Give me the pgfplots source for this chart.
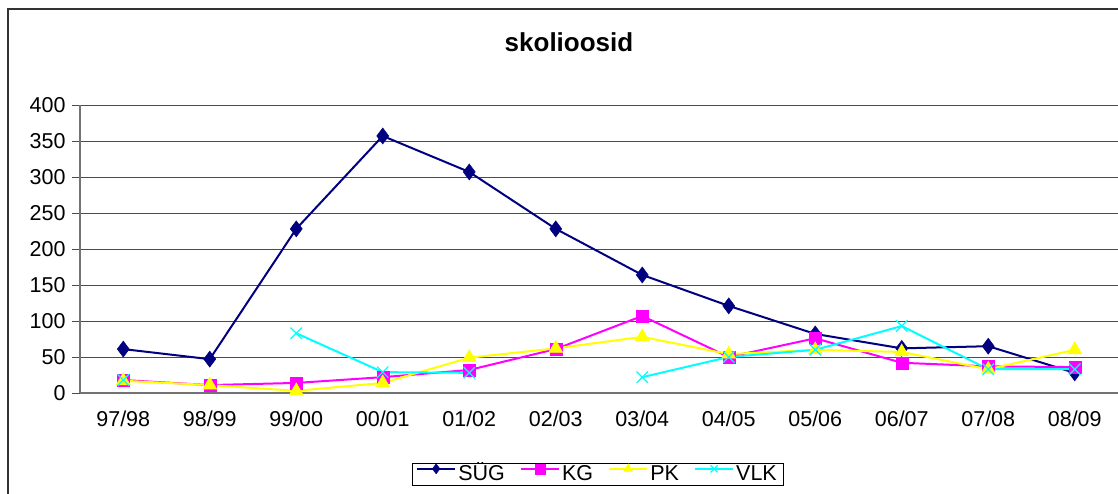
\documentclass[border=0pt]{standalone}
\usepackage{fontspec}
\setmainfont{Liberation Sans}
\usepackage{pgfplots}
\usepackage{pgfplotstable}
\pgfplotsset{compat=1.18}

\definecolor{sug}{RGB}{0,0,128}
\definecolor{kg}{RGB}{255,0,255}
\definecolor{pk}{RGB}{255,255,0}
\definecolor{vlk}{RGB}{0,255,255}

% x: 0 = 97/98 ... 11 = 08/09
\pgfplotstableread{
x  sug  kg   pk   vlk
0  61   18   17   18
1  47   11   11   nan
2  228  14   3    83
3  357  22   14   29
4  307  32   49   28
5  228  61   62   nan
6  164  107  78   22
7  121  50   54   50
8  82   76   60   60
9  62   42   57   93
10 65   37   33   33
11 28   36   60   33
}\datatable

\begin{document}
\begin{tikzpicture}[x=1pt,y=1pt]
\useasboundingbox (0,0) rectangle (1118,493);
\clip (0,0) rectangle (1118,493);
\draw[line width=2pt, black!80] (8,484) rectangle (1140,-20);
\node[font=\fontsize{26}{28}\selectfont\bfseries] at (569,451) {skolioosid};
\begin{axis}[
    at={(80pt,100pt)}, anchor=south west,
    scale only axis,
    width=1038pt, height=288pt,
    xmin=-0.5, xmax=11.5,
    ymin=0, ymax=400,
    axis x line=bottom, axis y line=left,
    axis line style={-, draw=black!55, line width=1.5pt},
    xtick={0,...,11},
    xticklabels={97/98,98/99,99/00,00/01,01/02,02/03,03/04,04/05,05/06,06/07,07/08,08/09},
    major x tick style={draw=none},
    extra x ticks={-0.5,0.5,...,11.5},
    extra x tick labels={},
    extra x tick style={grid=none, major tick length=8pt, tick style={draw=black!70, line width=0.8pt}},
    ytick={0,50,...,400},
    ytick style={draw=black!70, line width=0.8pt},
    tick align=outside,
    major tick length=8pt,
    ymajorgrids,
    major grid style={draw=black!70, line width=0.8pt},
    tick label style={font=\fontsize{21.5}{23}\selectfont},
    /pgf/number format/assume math mode=true,
    xticklabel style={yshift=-6pt},
    yticklabel style={xshift=-3pt},
    unbounded coords=jump,
    clip=false,
    legend columns=4,
    legend style={
        at={(0.4985,-0.281)}, anchor=center,
        font=\fontsize{21.5}{23}\selectfont,
        draw=black,
        nodes={text height=0.95em, text depth=0.2em},
        /tikz/every even column/.append style={column sep=13pt},
        inner xsep=4pt, inner ysep=1pt,
    },
    legend image code/.code={
        \draw[mark repeat=2, mark phase=2, #1, line width=2.2pt, mark size=5pt]
            plot coordinates {(0pt,7.5pt) (19pt,7.5pt) (38pt,7.5pt)};
    },
]
\addplot[color=sug, line width=2pt, mark=diamond*, mark size=8pt, mark options={fill=sug, draw=sug, line width=0.5pt}]
    table[x=x, y=sug] {\datatable};
\addlegendentry{SÜG}
\addplot[color=kg, line width=2pt, mark=square*, mark size=6pt, mark options={fill=kg, draw=kg, line width=0.5pt}]
    table[x=x, y=kg] {\datatable};
\addlegendentry{KG}
\addplot[color=pk, line width=2pt, mark=triangle*, mark size=8pt, mark options={fill=pk, draw=pk, line width=0.5pt}]
    table[x=x, y=pk] {\datatable};
\addlegendentry{PK}
\addplot[color=vlk, line width=2pt, mark=x, mark size=8pt, mark options={draw=vlk, line width=1.2pt}]
    table[x=x, y=vlk] {\datatable};
\addlegendentry{VLK}
\end{axis}
\end{tikzpicture}
\end{document}
